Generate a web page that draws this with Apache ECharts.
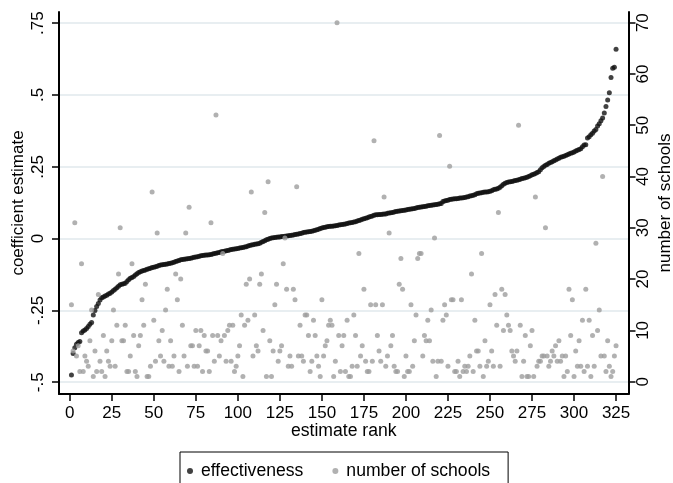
<!DOCTYPE html>
<html>
<head>
<meta charset="utf-8">
<script src="https://cdn.jsdelivr.net/npm/echarts@6/dist/echarts.min.js"></script>
<style>
  html, body { margin: 0; padding: 0; background: #fff; }
  #chart { width: 673px; height: 483px; }
</style>
</head>
<body>
<div id="chart"></div>
<script>
// effectiveness coefficient by estimate rank (1..325)
const effectiveness = [
  -0.475, -0.400, -0.380, -0.368, -0.362, -0.358, -0.328, -0.322, -0.318, -0.313,
  -0.306, -0.298, -0.292, -0.266, -0.250, -0.236, -0.226, -0.214, -0.206, -0.203,
  -0.200, -0.197, -0.193, -0.190, -0.186, -0.181, -0.176, -0.171, -0.166, -0.161,
  -0.159, -0.157, -0.155, -0.149, -0.143, -0.138, -0.135, -0.132, -0.127, -0.122,
  -0.118, -0.115, -0.113, -0.111, -0.109, -0.107, -0.105, -0.103, -0.101, -0.100,
  -0.098, -0.096, -0.094, -0.092, -0.091, -0.090, -0.089, -0.088, -0.087, -0.086,
  -0.084, -0.082, -0.080, -0.078, -0.076, -0.074, -0.073, -0.072, -0.071, -0.070,
  -0.069, -0.068, -0.067, -0.065, -0.064, -0.063, -0.061, -0.060, -0.059, -0.058,
  -0.057, -0.057, -0.056, -0.055, -0.054, -0.052, -0.051, -0.049, -0.048, -0.046,
  -0.045, -0.044, -0.042, -0.041, -0.040, -0.038, -0.037, -0.036, -0.035, -0.034,
  -0.033, -0.032, -0.031, -0.029, -0.028, -0.026, -0.024, -0.022, -0.021, -0.020,
  -0.019, -0.018, -0.016, -0.013, -0.010, -0.007, -0.004, -0.002, 0.000, 0.002,
  0.003, 0.004, 0.005, 0.006, 0.006, 0.007, 0.007, 0.008, 0.009, 0.010,
  0.011, 0.012, 0.013, 0.014, 0.015, 0.016, 0.018, 0.019, 0.021, 0.022,
  0.023, 0.024, 0.025, 0.026, 0.027, 0.029, 0.031, 0.033, 0.035, 0.037,
  0.039, 0.040, 0.041, 0.042, 0.043, 0.043, 0.044, 0.045, 0.046, 0.047,
  0.048, 0.049, 0.050, 0.051, 0.053, 0.054, 0.055, 0.056, 0.058, 0.059,
  0.061, 0.063, 0.065, 0.067, 0.069, 0.071, 0.073, 0.075, 0.077, 0.079,
  0.081, 0.083, 0.083, 0.084, 0.084, 0.085, 0.086, 0.086, 0.088, 0.089,
  0.090, 0.091, 0.093, 0.094, 0.095, 0.096, 0.097, 0.098, 0.099, 0.100,
  0.101, 0.102, 0.103, 0.104, 0.105, 0.107, 0.108, 0.109, 0.110, 0.111,
  0.112, 0.113, 0.114, 0.115, 0.116, 0.117, 0.118, 0.119, 0.120, 0.121,
  0.122, 0.129, 0.131, 0.133, 0.134, 0.136, 0.137, 0.138, 0.139, 0.139,
  0.140, 0.141, 0.141, 0.142, 0.143, 0.145, 0.146, 0.148, 0.149, 0.151,
  0.153, 0.156, 0.158, 0.159, 0.160, 0.161, 0.162, 0.162, 0.163, 0.165,
  0.167, 0.170, 0.172, 0.173, 0.175, 0.179, 0.184, 0.189, 0.193, 0.195,
  0.197, 0.198, 0.199, 0.201, 0.202, 0.203, 0.205, 0.207, 0.209, 0.210,
  0.212, 0.214, 0.216, 0.219, 0.222, 0.224, 0.227, 0.230, 0.233, 0.240,
  0.247, 0.251, 0.255, 0.258, 0.262, 0.265, 0.268, 0.271, 0.274, 0.277,
  0.280, 0.283, 0.285, 0.287, 0.289, 0.292, 0.295, 0.297, 0.299, 0.302,
  0.305, 0.308, 0.310, 0.313, 0.320, 0.326, 0.327, 0.350, 0.355, 0.362,
  0.367, 0.375, 0.380, 0.392, 0.400, 0.410, 0.420, 0.437, 0.460, 0.483,
  0.508, 0.561, 0.593, 0.597, 0.659
];

// number of schools by estimate rank (1..325)
const schools = [
  15, 6, 31, 5, 7, 2, 23, 2, 5, 4,
  3, 8, 14, 1, 6, 2, 17, 4, 2, 9,
  1, 6, 4, 3, 8, 14, 3, 11, 21, 30,
  8, 8, 11, 2, 2, 5, 23, 9, 2, 1,
  7, 9, 16, 11, 19, 1, 1, 3, 37, 12,
  4, 29, 8, 5, 10, 4, 14, 18, 3, 8,
  3, 5, 21, 16, 2, 20, 11, 5, 29, 3,
  34, 7, 7, 3, 10, 3, 7, 10, 2, 9,
  6, 6, 2, 31, 9, 4, 52, 9, 5, 8,
  25, 9, 4, 10, 11, 4, 11, 2, 3, 5,
  7, 13, 1, 11, 19, 12, 20, 37, 5, 13,
  7, 6, 19, 21, 10, 33, 1, 39, 8, 1,
  6, 15, 19, 4, 6, 7, 23, 28, 18, 3,
  5, 3, 18, 16, 38, 5, 11, 5, 4, 13,
  13, 9, 2, 4, 12, 9, 5, 3, 1, 16,
  5, 7, 8, 11, 12, 11, 1, 4, 70, 9,
  2, 7, 9, 2, 12, 1, 1, 3, 13, 9,
  3, 25, 5, 7, 18, 4, 2, 2, 15, 4,
  47, 15, 9, 6, 4, 15, 36, 3, 5, 29,
  7, 9, 3, 2, 2, 19, 24, 18, 1, 5,
  2, 2, 15, 3, 8, 13, 24, 25, 25, 5,
  9, 8, 12, 8, 14, 4, 28, 1, 4, 48,
  4, 12, 15, 13, 3, 42, 16, 16, 2, 2,
  4, 1, 16, 2, 3, 2, 3, 5, 21, 2,
  12, 6, 6, 3, 25, 1, 8, 3, 4, 15,
  6, 3, 17, 11, 33, 3, 18, 10, 17, 13,
  11, 10, 6, 5, 4, 6, 50, 11, 1, 4,
  9, 1, 1, 7, 10, 1, 36, 3, 4, 4,
  5, 5, 30, 5, 3, 4, 6, 5, 7, 4,
  8, 4, 5, 1, 5, 2, 18, 9, 16, 1,
  6, 3, 8, 3, 12, 2, 18, 3, 12, 1,
  9, 3, 27, 10, 14, 5, 40, 5, 2, 8,
  3, 1, 2, 5, 7
];

const rankTicks = [0, 25, 50, 75, 100, 125, 150, 175, 200, 225, 250, 275, 300, 325];
const coefTicks = [-0.5, -0.25, 0, 0.25, 0.5, 0.75];
const schoolTicks = [0, 10, 20, 30, 40, 50, 60, 70];

const effData = effectiveness.map((v, i) => [i + 1, v]);
const schData = schools.map((v, i) => [i + 1, v]);

const FONT = 'Liberation Sans, Arial, Helvetica, sans-serif';
const axisText = { color: '#000', fontFamily: FONT, fontSize: 17 };
const coefLabel = v => {
  if (v === 0) return '0';
  const s = String(Math.abs(v)).replace(/^0/, '');
  return (v < 0 ? '-' : '') + s;
};

const chart = echarts.init(document.getElementById('chart'));
chart.setOption({
  animation: false,
  backgroundColor: '#fff',
  grid: { left: 59, right: 44.5, top: 12, bottom: 89, containLabel: false, outerBoundsMode: 'none' },
  legend: {
    left: 180,
    top: 452,
    orient: 'horizontal',
    borderColor: '#000',
    borderWidth: 1,
    borderRadius: 0,
    padding: [10, 18, 12, 7],
    itemWidth: 6,
    itemHeight: 6,
    itemGap: 29,
    textStyle: { color: '#000', fontFamily: FONT, fontSize: 17.6, padding: [0, 0, 0, 3] },
    data: [
      { name: 'effectiveness', icon: 'circle' },
      { name: 'number of schools', icon: 'circle' }
    ]
  },
  xAxis: {
    type: 'value',
    min: -6.4,
    max: 332.4,
    name: 'estimate rank',
    nameLocation: 'middle',
    nameGap: 28,
    nameMoveOverlap: false,
    nameTextStyle: { ...axisText, fontSize: 17.6 },
    axisLine: { show: true, onZero: false, lineStyle: { color: '#000', width: 2 } },
    axisTick: { show: true, length: 7, customValues: rankTicks, lineStyle: { color: '#000', width: 1.5 } },
    axisLabel: { customValues: rankTicks, margin: 11, ...axisText },
    splitLine: { show: false }
  },
  yAxis: [
    {
      type: 'value',
      position: 'left',
      min: -0.541,
      max: 0.789,
      name: 'coefficient estimate',
      nameLocation: 'middle',
      nameRotate: 90,
      nameGap: 32,
      nameMoveOverlap: false,
      nameTextStyle: axisText,
      axisLine: { show: true, onZero: false, lineStyle: { color: '#000', width: 2 } },
      axisTick: { show: true, length: 7, customValues: coefTicks, lineStyle: { color: '#000', width: 1.5 } },
      axisLabel: { customValues: coefTicks, rotate: 90, margin: 12, formatter: coefLabel, ...axisText },
      splitLine: { show: true, lineStyle: { color: '#e8eef1', width: 2 } }
    },
    {
      type: 'value',
      position: 'right',
      min: -2.40,
      max: 72.08,
      name: 'number of schools',
      nameLocation: 'middle',
      nameRotate: 90,
      nameGap: 28.5,
      nameMoveOverlap: false,
      nameTextStyle: axisText,
      axisLine: { show: true, onZero: false, lineStyle: { color: '#000', width: 2 } },
      axisTick: { show: true, length: 7, customValues: schoolTicks, lineStyle: { color: '#000', width: 1.5 } },
      axisLabel: { customValues: schoolTicks, rotate: 90, margin: 6, ...axisText },
      splitLine: { show: false }
    }
  ],
  series: [
    {
      name: 'effectiveness',
      type: 'scatter',
      yAxisIndex: 0,
      data: effData,
      symbol: 'circle',
      symbolSize: 5,
      itemStyle: { color: '#111' }
    },
    {
      name: 'number of schools',
      type: 'scatter',
      yAxisIndex: 1,
      data: schData,
      symbol: 'circle',
      symbolSize: 5,
      itemStyle: { color: '#9d9d9d' }
    }
  ]
});
</script>
</body>
</html>
